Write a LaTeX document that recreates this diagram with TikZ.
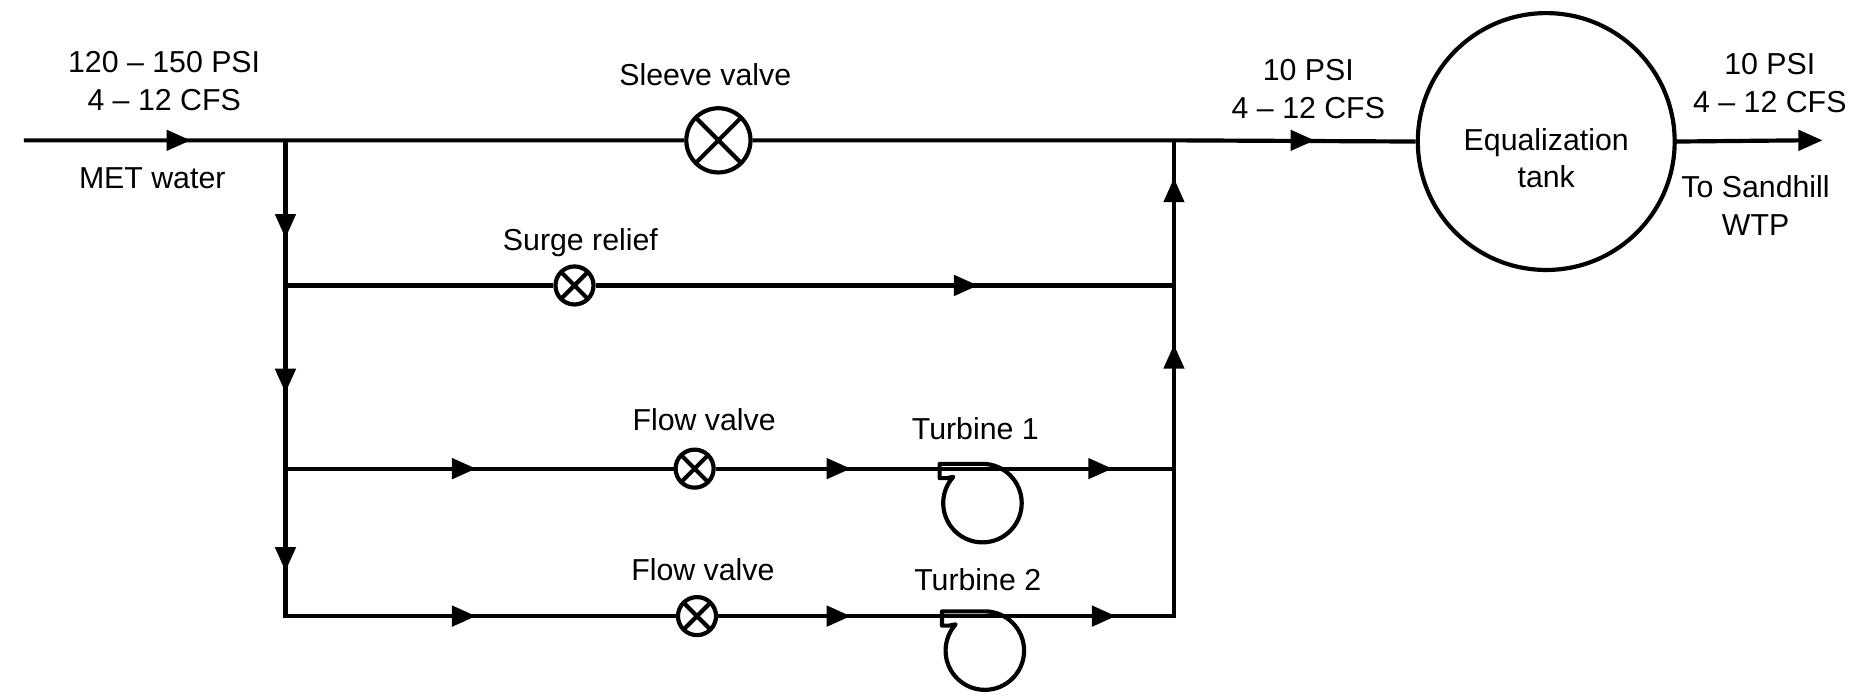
\documentclass[tikz,border=0pt]{standalone}
\usepackage{fontspec}
\setmainfont{Liberation Sans}
\begin{document}
\begin{tikzpicture}[x=0.02cm,y=-0.02cm,line width=2pt,
  lbl/.style={align=center,font=\fontsize{14.5}{18}\selectfont,inner sep=0pt},
  valve/.style={circle,draw,line width=2pt,minimum size=#1*0.04cm,inner sep=0pt,path picture={
    \draw[line width=2pt] (path picture bounding box.north west) -- (path picture bounding box.south east)
      (path picture bounding box.north east) -- (path picture bounding box.south west);}},
  tank/.style={circle,draw,line width=2pt,minimum size=4.32cm,inner sep=0pt},
  ar/.pic={\fill (-10,-9) -- (10,0) -- (-10,9) -- cycle;},
  ad/.pic={\fill (-9,-10) -- (9,-10) -- (0,10) -- cycle;},
  au/.pic={\fill (-9,10) -- (9,10) -- (0,-10) -- cycle;},
  turb/.pic={\draw[line width=2pt,line join=round] (-30,-21) -- (-36,-21) -- (-36,-33) -- (0,-33) arc[start angle=-90,end angle=222,radius=33] -- (-30,-21);}]
\useasboundingbox (0,0) rectangle (1568,587);
% nodes
\coordinate (in) at (20,118);
\coordinate (jL) at (240,118);
\coordinate (jR) at (987,118);
\coordinate (s1L) at (240,240); \coordinate (s1R) at (987,240);
\coordinate (t1L) at (240,394); \coordinate (t1R) at (987,394);
\coordinate (t2L) at (240,518); \coordinate (t2R) at (987,518);
\coordinate (out) at (1515,118);
\node[valve=27] (sv) at (604,118) {};
\node[valve=16] (sr) at (483,240) {};
\node[valve=16] (fv1) at (584,394) {};
\node[valve=16] (fv2) at (586,518) {};
\node[tank] (tk) at (1300,119) {};
% pipes
\draw (in) -- (jL) -- (sv) -- (jR) -- (tk.west);
\draw (jL) -- (t2L) -- (fv2) -- (t2R) -- (jR);
\draw (s1L) -- (sr) -- (s1R);
\draw (t1L) -- (fv1) -- (t1R);
\draw (tk.east) -- (out);
\fill (1512,109) -- (1532,118) -- (1512,127) -- cycle;
% turbines
\pic at (826,423) {turb};
\pic at (828,547) {turb};
% arrows
\pic at (150,118) {ar}; \pic at (1095,118) {ar};
\pic at (812,240) {ar};
\foreach \x in {390,705,925} \pic at (\x,394) {ar};
\foreach \x in {390,705,928} \pic at (\x,518) {ar};
\foreach \y in {190,320,470} \pic at (240,\y) {ad};
\foreach \y in {160,300} \pic at (987,\y) {au};
% labels
\node[lbl] at (138,68) {120 – 150 PSI\\4 – 12 CFS};
\node[lbl] at (128,150) {MET water};
\node[lbl] at (593,63) {Sleeve valve};
\node[lbl] at (1100,75) {10 PSI\\4 – 12 CFS};
\node[lbl] at (1300,133) {Equalization\\tank};
\node[lbl] at (1488,70) {10 PSI\\4 – 12 CFS};
\node[lbl] at (1476,173) {To Sandhill\\WTP};
\node[lbl] at (488,204) {Surge relief};
\node[lbl] at (592,353) {Flow valve};
\node[lbl] at (820,360) {Turbine 1};
\node[lbl] at (591,479) {Flow valve};
\node[lbl] at (822,487) {Turbine 2};
\end{tikzpicture}
\end{document}
